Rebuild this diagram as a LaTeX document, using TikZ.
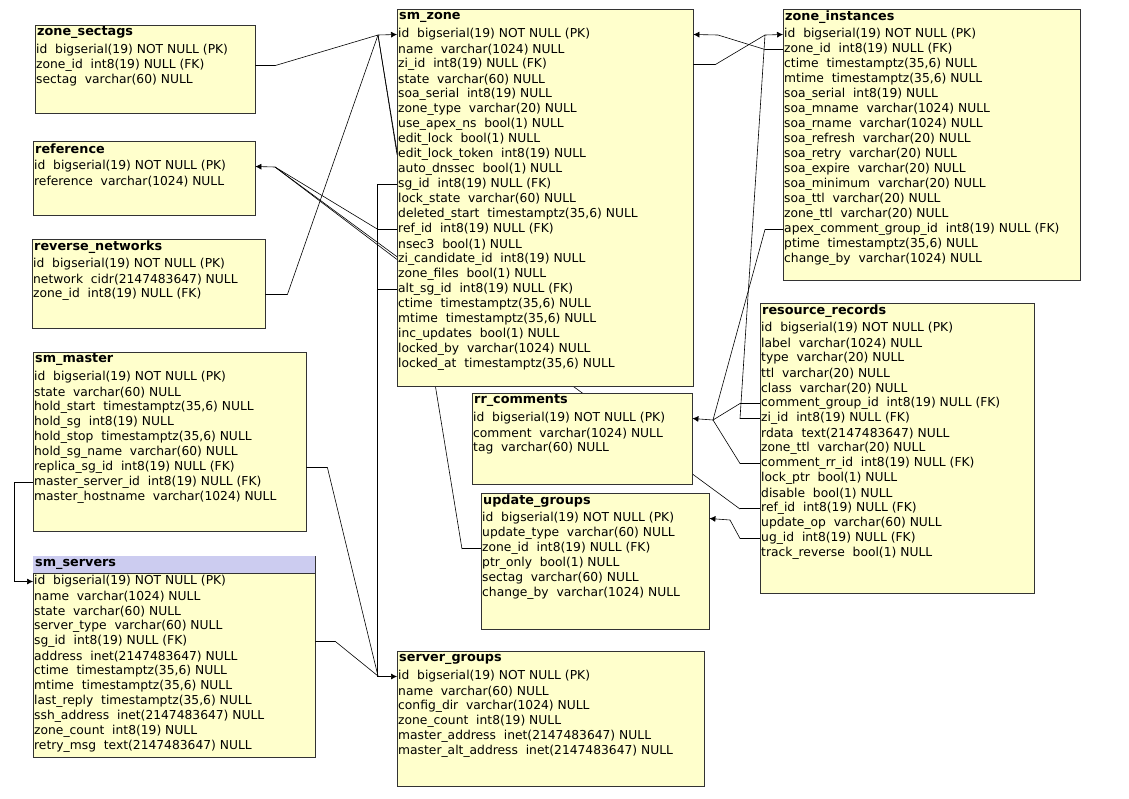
\documentclass[tikz,border=0pt]{standalone}
\usepackage{fontspec}
\setmainfont{DejaVu Sans}
\usetikzlibrary{arrows.meta,calc}

\definecolor{tblfill}{RGB}{255,255,204}
\definecolor{tblhead}{RGB}{204,204,240}

\tikzset{
    tbl/.style={rectangle, draw=black!80, fill=tblfill, inner sep=0pt, anchor=north west},
    hdr/.style={anchor=west, inner sep=1pt, font=\fontsize{12.8}{14}\selectfont\bfseries},
    row/.style={anchor=west, inner sep=1pt, font=\fontsize{12.3}{15}\selectfont},
    fk/.style={draw=black, line width=0.6pt},
    ref/.style={fk, -{Latex[length=6pt,width=6pt]}}
}

% \dbtable{name}{x1}{y1}{x2}{y2}{title}{rows}
\newcommand{\dbtable}[7]{
    \node[tbl, minimum width=#4pt-#2pt, minimum height=#5pt-#3pt] (#1) at (#2,#3) {};
    \node[hdr] (#1-h) at (#2+1,#3+8) {#6};
    \foreach \r [count=\i] in {#7}
        \node[row] (#1-\i) at (#2,#3+10.5+15*\i) {\r};
}

\begin{document}
\begin{tikzpicture}[x=1pt, y=-1pt]
\useasboundingbox (0,0) rectangle (1129,798);

% junctions
\coordinate (jzone) at (378,35);
\coordinate (jref) at (275,167);
\coordinate (jsg) at (378,676);
\coordinate (jzi) at (765,35);
\coordinate (jrrc) at (713,420);

% lines that run behind the tables
\draw[fk] (740,509) -- (jref);
\draw[fk] (462,549) -- (jzone);

% tables
\dbtable{sectags}{35}{25}{255}{113}{zone\_sectags}{
    {id\ \ bigserial(19) NOT NULL (PK)},
    {zone\_id\ \ int8(19) NULL (FK)},
    {sectag\ \ varchar(60) NULL}}
\dbtable{reference}{33}{141}{255}{215}{reference}{
    {id\ \ bigserial(19) NOT NULL (PK)},
    {reference\ \ varchar(1024) NULL}}
\dbtable{revnet}{32}{239}{265}{328}{reverse\_networks}{
    {id\ \ bigserial(19) NOT NULL (PK)},
    {network\ \ cidr(2147483647) NULL},
    {zone\_id\ \ int8(19) NULL (FK)}}
\dbtable{master}{33}{352}{306}{531}{sm\_master}{
    {id\ \ bigserial(19) NOT NULL (PK)},
    {state\ \ varchar(60) NULL},
    {hold\_start\ \ timestamptz(35,6) NULL},
    {hold\_sg\ \ int8(19) NULL},
    {hold\_stop\ \ timestamptz(35,6) NULL},
    {hold\_sg\_name\ \ varchar(60) NULL},
    {replica\_sg\_id\ \ int8(19) NULL (FK)},
    {master\_server\_id\ \ int8(19) NULL (FK)},
    {master\_hostname\ \ varchar(1024) NULL}}
\dbtable{servers}{33}{556}{315}{757}{}{
    {id\ \ bigserial(19) NOT NULL (PK)},
    {name\ \ varchar(1024) NULL},
    {state\ \ varchar(60) NULL},
    {server\_type\ \ varchar(60) NULL},
    {sg\_id\ \ int8(19) NULL (FK)},
    {address\ \ inet(2147483647) NULL},
    {ctime\ \ timestamptz(35,6) NULL},
    {mtime\ \ timestamptz(35,6) NULL},
    {last\_reply\ \ timestamptz(35,6) NULL},
    {ssh\_address\ \ inet(2147483647) NULL},
    {zone\_count\ \ int8(19) NULL},
    {retry\_msg\ \ text(2147483647) NULL}}
\fill[tblhead] (33.4,556.4) rectangle (314.6,573);
\node[hdr] at (34,564) {sm\_servers};
\draw[black!80] (33,573) -- (315,573);
\dbtable{zone}{397}{9}{693}{386}{sm\_zone}{
    {id\ \ bigserial(19) NOT NULL (PK)},
    {name\ \ varchar(1024) NULL},
    {zi\_id\ \ int8(19) NULL (FK)},
    {state\ \ varchar(60) NULL},
    {soa\_serial\ \ int8(19) NULL},
    {zone\_type\ \ varchar(20) NULL},
    {use\_apex\_ns\ \ bool(1) NULL},
    {edit\_lock\ \ bool(1) NULL},
    {edit\_lock\_token\ \ int8(19) NULL},
    {auto\_dnssec\ \ bool(1) NULL},
    {sg\_id\ \ int8(19) NULL (FK)},
    {lock\_state\ \ varchar(60) NULL},
    {deleted\_start\ \ timestamptz(35,6) NULL},
    {ref\_id\ \ int8(19) NULL (FK)},
    {nsec3\ \ bool(1) NULL},
    {zi\_candidate\_id\ \ int8(19) NULL},
    {zone\_files\ \ bool(1) NULL},
    {alt\_sg\_id\ \ int8(19) NULL (FK)},
    {ctime\ \ timestamptz(35,6) NULL},
    {mtime\ \ timestamptz(35,6) NULL},
    {inc\_updates\ \ bool(1) NULL},
    {locked\_by\ \ varchar(1024) NULL},
    {locked\_at\ \ timestamptz(35,6) NULL}}
\dbtable{zinst}{783}{9}{1080}{280}{zone\_instances}{
    {id\ \ bigserial(19) NOT NULL (PK)},
    {zone\_id\ \ int8(19) NULL (FK)},
    {ctime\ \ timestamptz(35,6) NULL},
    {mtime\ \ timestamptz(35,6) NULL},
    {soa\_serial\ \ int8(19) NULL},
    {soa\_mname\ \ varchar(1024) NULL},
    {soa\_rname\ \ varchar(1024) NULL},
    {soa\_refresh\ \ varchar(20) NULL},
    {soa\_retry\ \ varchar(20) NULL},
    {soa\_expire\ \ varchar(20) NULL},
    {soa\_minimum\ \ varchar(20) NULL},
    {soa\_ttl\ \ varchar(20) NULL},
    {zone\_ttl\ \ varchar(20) NULL},
    {apex\_comment\_group\_id\ \ int8(19) NULL (FK)},
    {ptime\ \ timestamptz(35,6) NULL},
    {change\_by\ \ varchar(1024) NULL}}
\dbtable{rr}{760}{303}{1034}{593}{resource\_records}{
    {id\ \ bigserial(19) NOT NULL (PK)},
    {label\ \ varchar(1024) NULL},
    {type\ \ varchar(20) NULL},
    {ttl\ \ varchar(20) NULL},
    {class\ \ varchar(20) NULL},
    {comment\_group\_id\ \ int8(19) NULL (FK)},
    {zi\_id\ \ int8(19) NULL (FK)},
    {rdata\ \ text(2147483647) NULL},
    {zone\_ttl\ \ varchar(20) NULL},
    {comment\_rr\_id\ \ int8(19) NULL (FK)},
    {lock\_ptr\ \ bool(1) NULL},
    {disable\ \ bool(1) NULL},
    {ref\_id\ \ int8(19) NULL (FK)},
    {update\_op\ \ varchar(60) NULL},
    {ug\_id\ \ int8(19) NULL (FK)},
    {track\_reverse\ \ bool(1) NULL}}
\dbtable{rrc}{472}{393}{692}{484}{rr\_comments}{
    {id\ \ bigserial(19) NOT NULL (PK)},
    {comment\ \ varchar(1024) NULL},
    {tag\ \ varchar(60) NULL}}
\dbtable{ug}{481}{493}{709}{629}{update\_groups}{
    {id\ \ bigserial(19) NOT NULL (PK)},
    {update\_type\ \ varchar(60) NULL},
    {zone\_id\ \ int8(19) NULL (FK)},
    {ptr\_only\ \ bool(1) NULL},
    {sectag\ \ varchar(60) NULL},
    {change\_by\ \ varchar(1024) NULL}}
\dbtable{sg}{397}{651}{704}{786}{server\_groups}{
    {id\ \ bigserial(19) NOT NULL (PK)},
    {name\ \ varchar(60) NULL},
    {config\_dir\ \ varchar(1024) NULL},
    {zone\_count\ \ int8(19) NULL},
    {master\_address\ \ inet(2147483647) NULL},
    {master\_alt\_address\ \ inet(2147483647) NULL}}

% foreign keys
\draw[ref] (sectags-2 -| sectags.east) -- ++(20,0) -- (jzone) -- (zone-1.west);
\draw[fk] (revnet-3 -| revnet.east) -- ++(22,0) -- (jzone);
\draw[fk] (zone-9.west) -- (jzone);
\draw[fk] (ug-3.west) -- ++(-19,0);

\draw[ref] (zone-14.west) -- ++(-19,0) -- (jref) -- (reference-1 -| reference.east);
\draw[fk] (zone-16.west) -- (jref);
\draw[fk] (rr-13.west) -- ++(-20,0);

\draw[ref] (zone-11.west) -- ++(-20,0) |- (sg-1.west);
\draw[fk] (zone-18.west) -- ++(-20,0);
\draw[fk] (master-7 -| master.east) -- ++(21,0) -- (jsg);
\draw[fk] (servers-5 -| servers.east) -- ++(20,0) -- (jsg);
\draw[ref] (master-8.west) -- ++(-19,0) |- (servers-1.west);

\draw[ref] (zone-3 -| zone.east) -- ++(22,0) -- (jzi) -- (zinst-1.west);
\draw[ref] (zinst-2.west) -- ++(-18,0) -- (718,35) -- (zone-1 -| zone.east);
\draw[fk] (rr-7.west) -- ++(-20,0) -- (jzi);

\draw[ref] (zinst-14.west) -- ++(-18,0) -- (jrrc) -- (rrc-1 -| rrc.east);
\draw[fk] (rr-6.west) -- ++(-20,0) -- (jrrc);
\draw[fk] (rr-10.west) -- ++(-20,0) -- (jrrc);

\draw[ref] (rr-15.west) -- ++(-20,0) -- (730,520) -- (ug-1 -| ug.east);
\end{tikzpicture}
\end{document}
